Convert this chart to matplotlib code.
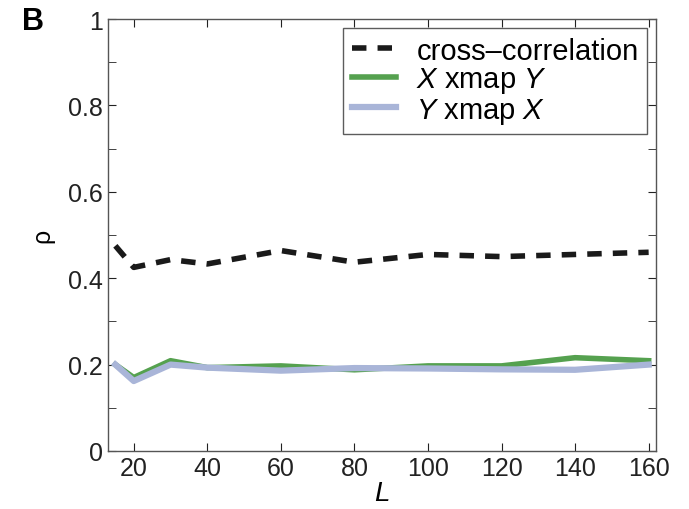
import matplotlib
matplotlib.use("Agg")
import matplotlib.pyplot as plt
from matplotlib.ticker import MultipleLocator

plt.rcParams['font.family'] = ['Liberation Sans', 'DejaVu Sans']
plt.rcParams['mathtext.fontset'] = 'custom'
plt.rcParams['mathtext.rm'] = 'Liberation Sans'
plt.rcParams['mathtext.it'] = 'Liberation Sans:italic'

L = [15, 20, 30, 40, 60, 80, 100, 120, 140, 160]
cross_corr = [0.475, 0.425, 0.443, 0.433, 0.464, 0.437, 0.455, 0.450, 0.455, 0.460]
x_xmap_y = [0.200, 0.170, 0.209, 0.193, 0.197, 0.188, 0.197, 0.197, 0.216, 0.209]
y_xmap_x = [0.200, 0.162, 0.200, 0.193, 0.186, 0.192, 0.191, 0.189, 0.188, 0.200]

fig = plt.figure(figsize=(6.89, 5.10), dpi=100)
ax = fig.add_axes([108/689, 1-452/510, (656-108)/689, (452-20)/510])

ax.plot(L, cross_corr, color='#1a1a1a', lw=4, ls=(0, (2.6, 2.0)), label='cross\u2013correlation')
ax.plot(L, x_xmap_y, color='#55a14f', lw=4, label='$\\mathit{X}$ xmap $\\mathit{Y}$')
ax.plot(L, y_xmap_x, color='#a9b5d8', lw=4.5, label='$\\mathit{Y}$ xmap $\\mathit{X}$')

ax.set_xlim(13, 162)
ax.set_ylim(0, 1)
ax.set_xticks([20, 40, 60, 80, 100, 120, 140, 160])
ax.set_yticks([0, 0.2, 0.4, 0.6, 0.8, 1])
ax.set_yticklabels(['0', '0.2', '0.4', '0.6', '0.8', '1'])
ax.yaxis.set_minor_locator(MultipleLocator(0.1))
ax.tick_params(which='both', direction='in', top=True, right=True, labelsize=18, colors='#222222')
ax.tick_params(which='major', length=6)
ax.tick_params(which='minor', length=6)
for s in ax.spines.values():
    s.set_color('#555555')
    s.set_linewidth(1.0)

ax.set_xlabel('L', fontsize=20, style='italic', labelpad=0)
ax.set_ylabel('\u03c1', fontsize=18, labelpad=10)

leg = ax.legend(loc='upper right', fontsize=21, frameon=True, fancybox=False,
                edgecolor='#333333', handlelength=1.5, borderpad=0.3, labelspacing=0.02,
                handletextpad=0.7, borderaxespad=0.3)
leg.get_frame().set_linewidth(1.0)

fig.text(22/689, 1-22/510, 'B', fontsize=22, fontweight='bold', va='center', ha='left')

fig.savefig('out.png', dpi=100)
